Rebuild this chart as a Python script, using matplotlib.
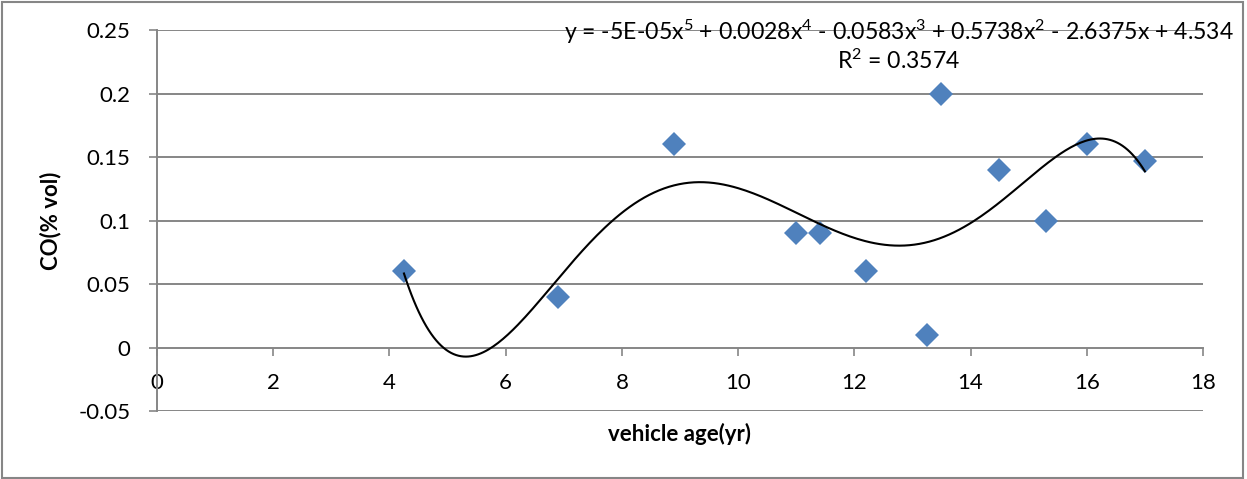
import matplotlib
matplotlib.use("Agg")
import matplotlib.pyplot as plt
import numpy as np
from matplotlib.patches import Rectangle

plt.rcParams["font.family"] = ["Lato", "DejaVu Sans"]
plt.rcParams["mathtext.fontset"] = "custom"
plt.rcParams["mathtext.rm"] = "Lato"
plt.rcParams["mathtext.default"] = "regular"

# vehicle age (yr) and CO (% vol)
vehicle_age = [4.25, 6.9, 8.9, 11.0, 11.41, 12.2, 13.25, 13.5, 14.49, 15.3, 16.0, 17.0]
co_vol = [0.06, 0.04, 0.16, 0.09, 0.09, 0.06, 0.01, 0.2, 0.14, 0.1, 0.16, 0.147]

x_ticks = [0, 2, 4, 6, 8, 10, 12, 14, 16, 18]
y_ticks = [-0.05, 0, 0.05, 0.1, 0.15, 0.2, 0.25]
y_tick_labels = ["-0.05", "0", "0.05", "0.1", "0.15", "0.2", "0.25"]

equation_text = ("y = -5E-05x$^5$ + 0.0028x$^4$ - 0.0583x$^3$ + 0.5738x$^2$ "
                 "- 2.6375x + 4.534")
r2_text = "R$^2$ = 0.3574"

grid_color = "#868686"
fs = 16

fig = plt.figure(figsize=(12.47, 4.79), dpi=100)
ax = fig.add_axes([0.1259, 0.142, 0.8388, 0.795])

# polynomial (order 5) trendline fitted to the points
coeffs = np.polyfit(vehicle_age, co_vol, 5)
x_fit = np.linspace(min(vehicle_age), max(vehicle_age), 300)
ax.plot(x_fit, np.polyval(coeffs, x_fit), color="black", lw=1.5, zorder=4)

ax.plot(vehicle_age, co_vol, linestyle="none", marker="D", ms=12,
        color="#4F81BD", markeredgewidth=0, zorder=3)

ax.set_xlim(0, 18)
ax.set_ylim(-0.05, 0.25)
ax.set_xticks(x_ticks)
ax.set_yticks(y_ticks)
ax.set_yticklabels(y_tick_labels)

for y in y_ticks:
    if y != 0:
        ax.axhline(y, color=grid_color, lw=1.4, zorder=1)

for side in ["top", "right"]:
    ax.spines[side].set_visible(False)
ax.spines["bottom"].set_position(("data", 0))
ax.spines["bottom"].set_color(grid_color)
ax.spines["bottom"].set_linewidth(1.4)
ax.spines["left"].set_color(grid_color)
ax.spines["left"].set_linewidth(1.4)

ax.tick_params(axis="x", direction="out", length=6, width=1.2, color=grid_color,
               pad=12, labelsize=fs)
ax.tick_params(axis="y", direction="out", length=6, width=1.2, color=grid_color,
               pad=13, labelsize=fs)

ax.set_xlabel("vehicle age(yr)", fontsize=fs, fontweight="bold", labelpad=22)
ax.set_ylabel("CO(% vol)", fontsize=fs, fontweight="bold", labelpad=12)

fig.text(0.7205, 0.933, equation_text, ha="center", va="center", fontsize=16.6)
fig.text(0.7205, 0.873, r2_text, ha="center", va="center", fontsize=16.6)

fig.patches.append(Rectangle((0.002, 0.002), 0.995, 0.994, transform=fig.transFigure,
                             fill=False, edgecolor=grid_color, lw=1.5))

fig.savefig("out.png", dpi=100)
plt.close(fig)
